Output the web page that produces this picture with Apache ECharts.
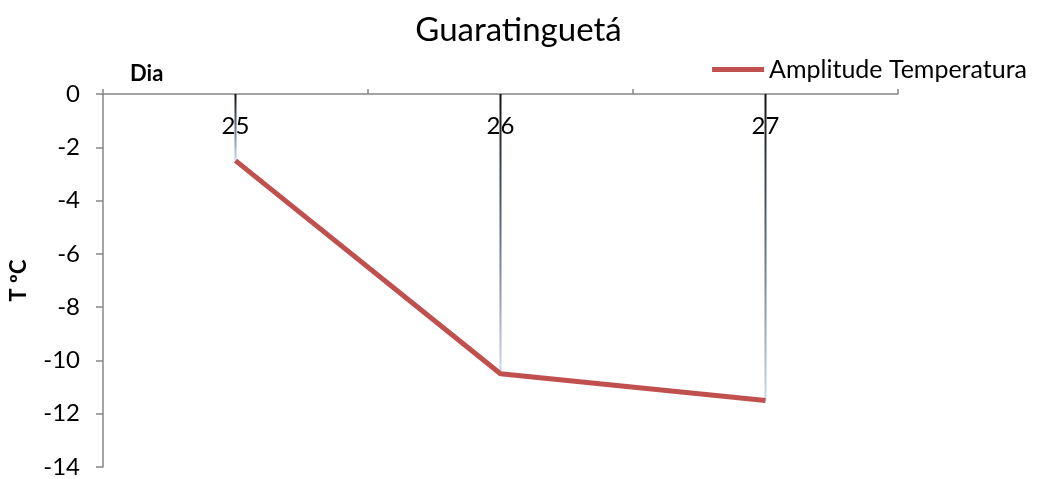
<!DOCTYPE html>
<html>
<head>
<meta charset="utf-8">
<script src="https://cdn.jsdelivr.net/npm/echarts@6/dist/echarts.min.js"></script>
<style>
  html, body { margin: 0; padding: 0; background: #fff; }
  #chart { width: 1037px; height: 479px; }
</style>
</head>
<body>
<div id="chart"></div>
<script>
// Daily temperature amplitude, Guaratinguetá
const days = ['25', '26', '27'];
const amplitude = [-2.5, -10.5, -11.5];
const yTicks = { min: -14, max: 0, step: 2 };

const FONT = 'Lato, "Open Sans", sans-serif';
const chart = echarts.init(document.getElementById('chart'));

chart.setOption({
  animation: false,
  title: [
    { text: 'Guaratinguetá', left: 'center', top: 9,
      textStyle: { fontFamily: FONT, fontSize: 33, fontWeight: 'normal', color: '#000' } },
    { text: 'Dia', left: 125, top: 58,
      textStyle: { fontFamily: FONT, fontSize: 22, fontWeight: 'bold', color: '#000' } }
  ],
  legend: {
    right: 5, top: 52,
    itemWidth: 52, itemHeight: 5, itemGap: 6,
    textStyle: { fontFamily: FONT, fontSize: 25, color: '#000' },
    data: [{ name: 'Amplitude Temperatura', icon: 'rect' }]
  },
  grid: { left: 101, right: 139, top: 94, bottom: 12, containLabel: false },
  xAxis: {
    type: 'category',
    position: 'top',
    data: days,
    boundaryGap: true,
    axisLine: { lineStyle: { color: '#868686', width: 1.5 } },
    axisTick: { show: true, inside: false, length: 5, alignWithLabel: false,
      lineStyle: { color: '#868686', width: 1.5 } },
    axisLabel: { inside: true, margin: 20, fontFamily: FONT, fontSize: 24, color: '#000' },
    splitLine: { show: false }
  },
  yAxis: {
    type: 'value',
    min: yTicks.min, max: yTicks.max, interval: yTicks.step,
    name: 'T ºC',
    nameLocation: 'middle',
    nameGap: 73,
    nameRotate: 90,
    nameTextStyle: { fontFamily: FONT, fontSize: 22, fontWeight: 'bold', color: '#000' },
    axisLine: { show: true, lineStyle: { color: '#868686', width: 1.5 } },
    axisTick: { show: true, length: 7, lineStyle: { color: '#868686', width: 1.5 } },
    axisLabel: { margin: 23, fontFamily: FONT, fontSize: 24, color: '#000' },
    splitLine: { show: false }
  },
  series: [
    {
      // drop lines from the zero axis to each daily value
      name: 'drop',
      type: 'bar',
      data: amplitude,
      barWidth: 2,
      silent: true,
      legendHoverLink: false,
      itemStyle: {
        color: new echarts.graphic.LinearGradient(0, 0, 0, 1, [
          { offset: 0, color: '#111111' },
          { offset: 0.45, color: '#5a6878' },
          { offset: 1, color: '#c8daf2' }
        ])
      },
      z: 1
    },
    {
      name: 'Amplitude Temperatura',
      type: 'line',
      data: amplitude,
      showSymbol: false,
      symbol: 'none',
      lineStyle: { color: '#c0504d', width: 5 },
      itemStyle: { color: '#c0504d' },
      z: 3
    }
  ]
});
</script>
</body>
</html>
